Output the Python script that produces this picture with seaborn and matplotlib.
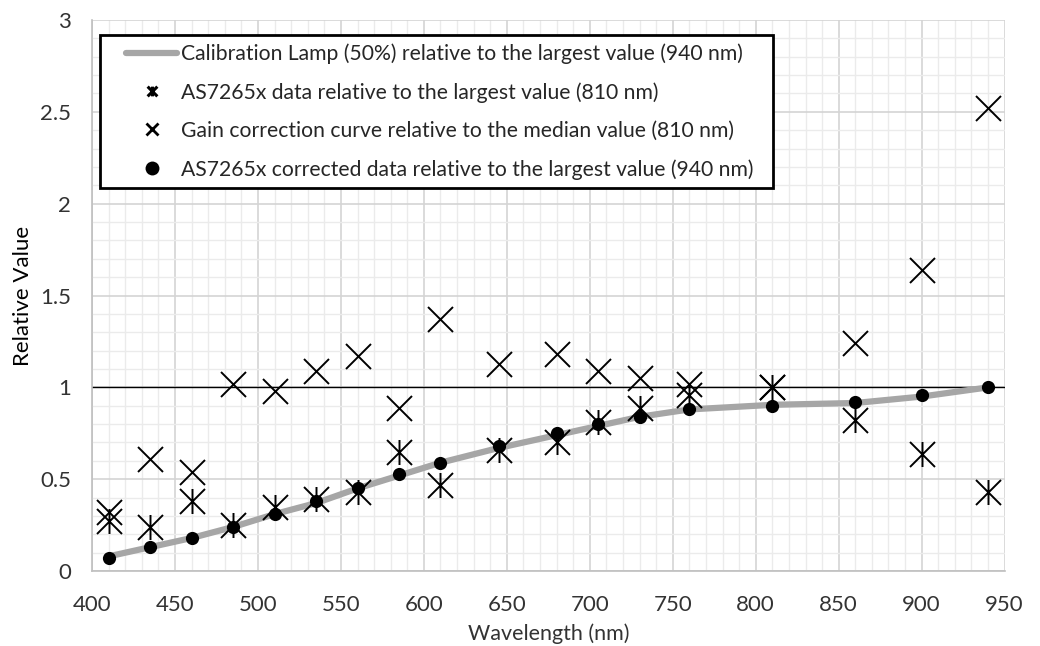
import numpy as np
import matplotlib.pyplot as plt
import seaborn as sns
from matplotlib.lines import Line2D
from matplotlib.path import Path
from matplotlib.ticker import MultipleLocator
from matplotlib.legend_handler import HandlerLine2D

# ── Data ─────────────────────────────────────────────────────────────────────
wavelength = [410, 435, 460, 485, 510, 535, 560, 585, 610,
              645, 680, 705, 730, 760, 810, 860, 900, 940]

lamp = [0.08, 0.13, 0.18, 0.24, 0.31, 0.37, 0.45, 0.52, 0.59,
        0.67, 0.74, 0.79, 0.84, 0.88, 0.905, 0.915, 0.95, 1.0]

raw_data = [0.27, 0.24, 0.38, 0.25, 0.35, 0.39, 0.43, 0.65, 0.47,
            0.66, 0.70, 0.81, 0.89, 0.96, 1.0, 0.82, 0.64, 0.43]

gain = [0.32, 0.61, 0.54, 1.02, 0.98, 1.09, 1.17, 0.89, 1.37,
        1.13, 1.18, 1.09, 1.05, 1.02, 1.0, 1.24, 1.64, 2.52]

corrected = [0.07, 0.13, 0.18, 0.24, 0.31, 0.38, 0.45, 0.53, 0.59,
             0.68, 0.75, 0.80, 0.84, 0.88, 0.90, 0.92, 0.96, 1.0]

labels = [
    "Calibration Lamp (50%) relative to the largest value (940 nm)",
    "AS7265x data relative to the largest value (810 nm)",
    "Gain correction curve relative to the median value (810 nm)",
    "AS7265x corrected data relative to the largest value (940 nm)",
]

# ── Style ────────────────────────────────────────────────────────────────────
sns.set_style("white")
plt.rcParams["font.family"] = ["Lato", "DejaVu Sans"]

# asterisk marker: x with a vertical bar
star = Path(
    [(-1, -1), (1, 1), (-1, 1), (1, -1), (0, -1), (0, 1)],
    [Path.MOVETO, Path.LINETO, Path.MOVETO, Path.LINETO, Path.MOVETO, Path.LINETO],
)

fig = plt.figure(figsize=(10.4, 6.46), dpi=100)
ax = fig.add_axes([0.0885, 0.116, 0.8775, 0.853])

sns.lineplot(x=wavelength, y=lamp, ax=ax, color="#a6a6a6", linewidth=4.5,
             solid_capstyle="butt", zorder=3)
sns.lineplot(x=wavelength, y=raw_data, ax=ax, marker=star, linestyle="",
             markersize=18, markeredgewidth=1.4, color="black",
             markeredgecolor="black", zorder=4)
sns.lineplot(x=wavelength, y=gain, ax=ax, marker="x", linestyle="",
             markersize=18, markeredgewidth=1.4, color="black",
             markeredgecolor="black", zorder=4)
sns.lineplot(x=wavelength, y=corrected, ax=ax, marker="o", linestyle="",
             markersize=9.5, markeredgewidth=0, color="black",
             markeredgecolor="black", zorder=5)

ax.axhline(1, color="black", linewidth=1, zorder=2)

ax.set_xlim(400, 950)
ax.set_ylim(0, 3)
ax.xaxis.set_major_locator(MultipleLocator(50))
ax.xaxis.set_minor_locator(MultipleLocator(10))
ax.yaxis.set_major_locator(MultipleLocator(0.5))
ax.yaxis.set_minor_locator(MultipleLocator(0.1))
ax.set_yticks(np.arange(0, 3.01, 0.5))
ax.set_yticklabels(["0", "0.5", "1", "1.5", "2", "2.5", "3"])

ax.grid(which="major", color="#d4d4d4", linewidth=1.2)
ax.grid(which="minor", color="#ebebeb", linewidth=1.0)
ax.set_axisbelow(True)
for side in ["top", "right"]:
    ax.spines[side].set_visible(False)
for side in ["left", "bottom"]:
    ax.spines[side].set_color("#bfbfbf")
    ax.spines[side].set_linewidth(1.2)

ax.tick_params(which="both", length=0, labelsize=16, colors="#333333")
ax.tick_params(axis="x", pad=17)
ax.tick_params(axis="y", pad=15)
ax.set_xlabel("Wavelength (nm)", fontsize=15.5, color="#333333", labelpad=6)
ax.set_ylabel("Relative Value", fontsize=16, color="black", labelpad=5)

handles = [
    Line2D([], [], color="#a6a6a6", linewidth=4.5),
    Line2D([], [], marker=star, linestyle="", color="black",
           markersize=7, markeredgewidth=2.2),
    Line2D([], [], marker="x", linestyle="", color="black",
           markersize=8, markeredgewidth=2),
    Line2D([], [], marker="o", linestyle="", color="black",
           markersize=10, markeredgewidth=0),
]
leg = ax.legend(handles, labels, loc="upper left",
                bbox_to_anchor=(0.0088, 0.0, 0.737, 0.973), mode="expand",
                borderaxespad=0, fontsize=15.2, frameon=True, fancybox=False,
                handlelength=3.25, handletextpad=0.2, labelspacing=0.86,
                borderpad=0.4,
                handler_map={Line2D: HandlerLine2D(xpad=0.84)})
leg.get_frame().set_edgecolor("black")
leg.get_frame().set_linewidth(2)
leg.get_frame().set_alpha(1)

fig.savefig("out.png", dpi=100)
